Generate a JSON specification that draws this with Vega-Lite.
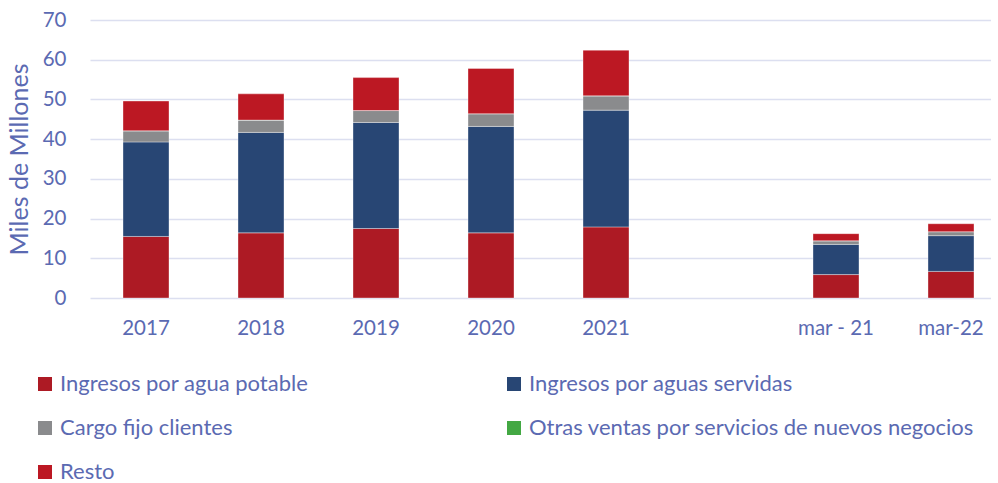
{
  "$schema": "https://vega.github.io/schema/vega-lite/v6.json",
  "width": 901,
  "height": 278,
  "padding": {"left": 7, "top": 10, "right": 0, "bottom": 0},
  "background": "white",
  "config": {
    "view": {"stroke": null},
    "font": "Lato",
    "axis": {"labelFont": "Lato", "titleFont": "Lato"},
    "legend": {"labelFont": "Lato"}
  },
  "data": {
    "values": [
      {"periodo": "2017", "concepto": "Ingresos por agua potable", "valor": 15.5},
      {"periodo": "2017", "concepto": "Ingresos por aguas servidas", "valor": 23.8},
      {"periodo": "2017", "concepto": "Cargo fijo clientes", "valor": 2.8},
      {"periodo": "2017", "concepto": "Otras ventas por servicios de nuevos negocios", "valor": 0},
      {"periodo": "2017", "concepto": "Resto", "valor": 7.5},
      {"periodo": "2018", "concepto": "Ingresos por agua potable", "valor": 16.4},
      {"periodo": "2018", "concepto": "Ingresos por aguas servidas", "valor": 25.3},
      {"periodo": "2018", "concepto": "Cargo fijo clientes", "valor": 3.1},
      {"periodo": "2018", "concepto": "Otras ventas por servicios de nuevos negocios", "valor": 0},
      {"periodo": "2018", "concepto": "Resto", "valor": 6.6},
      {"periodo": "2019", "concepto": "Ingresos por agua potable", "valor": 17.5},
      {"periodo": "2019", "concepto": "Ingresos por aguas servidas", "valor": 26.7},
      {"periodo": "2019", "concepto": "Cargo fijo clientes", "valor": 3.0},
      {"periodo": "2019", "concepto": "Otras ventas por servicios de nuevos negocios", "valor": 0},
      {"periodo": "2019", "concepto": "Resto", "valor": 8.3},
      {"periodo": "2020", "concepto": "Ingresos por agua potable", "valor": 16.4},
      {"periodo": "2020", "concepto": "Ingresos por aguas servidas", "valor": 26.8},
      {"periodo": "2020", "concepto": "Cargo fijo clientes", "valor": 3.2},
      {"periodo": "2020", "concepto": "Otras ventas por servicios de nuevos negocios", "valor": 0},
      {"periodo": "2020", "concepto": "Resto", "valor": 11.4},
      {"periodo": "2021", "concepto": "Ingresos por agua potable", "valor": 17.9},
      {"periodo": "2021", "concepto": "Ingresos por aguas servidas", "valor": 29.4},
      {"periodo": "2021", "concepto": "Cargo fijo clientes", "valor": 3.6},
      {"periodo": "2021", "concepto": "Otras ventas por servicios de nuevos negocios", "valor": 0},
      {"periodo": "2021", "concepto": "Resto", "valor": 11.5},
      {"periodo": "mar - 21", "concepto": "Ingresos por agua potable", "valor": 5.9},
      {"periodo": "mar - 21", "concepto": "Ingresos por aguas servidas", "valor": 7.6},
      {"periodo": "mar - 21", "concepto": "Cargo fijo clientes", "valor": 0.9},
      {"periodo": "mar - 21", "concepto": "Otras ventas por servicios de nuevos negocios", "valor": 0},
      {"periodo": "mar - 21", "concepto": "Resto", "valor": 1.8},
      {"periodo": "mar-22", "concepto": "Ingresos por agua potable", "valor": 6.7},
      {"periodo": "mar-22", "concepto": "Ingresos por aguas servidas", "valor": 9.0},
      {"periodo": "mar-22", "concepto": "Cargo fijo clientes", "valor": 1.0},
      {"periodo": "mar-22", "concepto": "Otras ventas por servicios de nuevos negocios", "valor": 0},
      {"periodo": "mar-22", "concepto": "Resto", "valor": 2.0}
    ]
  },
  "transform": [
    {"calculate": "indexof(['Ingresos por agua potable', 'Ingresos por aguas servidas', 'Cargo fijo clientes', 'Otras ventas por servicios de nuevos negocios', 'Resto'], datum.concepto)", "as": "orden"}
  ],
  "mark": {"type": "bar", "stroke": "white", "strokeWidth": 0.6, "strokeOpacity": 0.6},
  "encoding": {
    "x": {
      "field": "periodo",
      "type": "nominal",
      "scale": {
        "domain": ["2017", "2018", "2019", "2020", "2021", " ", "mar - 21", "mar-22"],
        "paddingInner": 0.6,
        "paddingOuter": 0.2174,
        "align": 0.66
      },
      "axis": {
        "title": null,
        "labelAngle": 0,
        "labelColor": "#5b6ab2",
        "labelFontSize": 20.5,
        "labelPadding": 20,
        "ticks": false,
        "domain": false
      }
    },
    "y": {
      "field": "valor",
      "type": "quantitative",
      "stack": "zero",
      "scale": {"domain": [0, 70], "nice": false},
      "axis": {
        "values": [0, 10, 20, 30, 40, 50, 60, 70],
        "title": "Miles de Millones",
        "titleColor": "#5b6ab2",
        "titleFontSize": 25,
        "titleFontWeight": "normal",
        "titlePadding": 10,
        "labelColor": "#5b6ab2",
        "labelFontSize": 20.5,
        "labelPadding": 24,
        "ticks": false,
        "domain": false,
        "gridColor": "#dcdff0",
        "gridWidth": 1.5
      }
    },
    "order": {"field": "orden", "type": "quantitative", "sort": "ascending"},
    "color": {
      "field": "concepto",
      "type": "nominal",
      "scale": {
        "domain": ["Ingresos por agua potable", "Cargo fijo clientes", "Resto", "Ingresos por aguas servidas", "Otras ventas por servicios de nuevos negocios"],
        "range": ["#ad1a24", "#8a8b8d", "#bc1823", "#284674", "#43a843"]
      },
      "legend": {
        "title": null,
        "orient": "none",
        "legendX": -56,
        "legendY": 353,
        "columns": 2,
        "columnPadding": 194,
        "rowPadding": 22,
        "symbolType": "square",
        "symbolSize": 196,
        "symbolStrokeWidth": 0,
        "labelOffset": 4,
        "labelFontSize": 22,
        "labelColor": "#5b6ab2",
        "labelLimit": 600
      }
    }
  }
}
